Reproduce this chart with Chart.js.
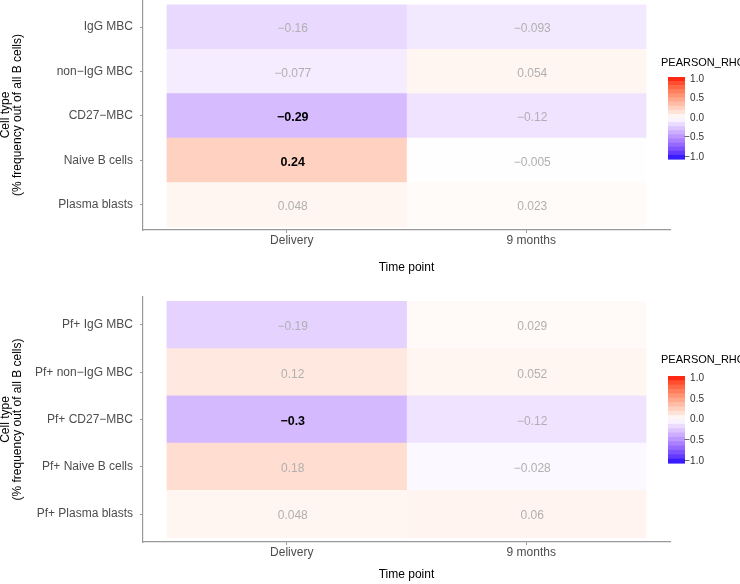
<!DOCTYPE html>
<html>
<head>
<meta charset="utf-8">
<script src="https://cdn.jsdelivr.net/npm/chart.js@4"></script>
<style>
  html, body { margin: 0; padding: 0; background: #fff; }
  canvas { display: block; }
</style>
</head>
<body>
<canvas id="topChart" width="740" height="290"></canvas>
<canvas id="bottomChart" width="740" height="294"></canvas>
<script>
// time points on the x axis
const timePoints = ['Delivery', '9 months'];

// top panel: all B cells
const cellTypesTop = ['IgG MBC', 'non−IgG MBC', 'CD27−MBC', 'Naive B cells', 'Plasma blasts'];
const rhoTopDelivery = [-0.16, -0.077, -0.29, 0.24, 0.048];
const rhoTop9Months = [-0.093, 0.054, -0.12, -0.005, 0.023];
const boldTopDelivery = [false, false, true, true, false];
const boldTop9Months = [false, false, false, false, false];

// bottom panel: Pf+ B cells
const cellTypesBottom = ['Pf+ IgG MBC', 'Pf+ non−IgG MBC', 'Pf+ CD27−MBC', 'Pf+ Naive B cells', 'Pf+ Plasma blasts'];
const rhoBottomDelivery = [-0.19, 0.12, -0.3, 0.18, 0.048];
const rhoBottom9Months = [0.029, 0.052, -0.12, -0.028, 0.06];
const boldBottomDelivery = [false, false, true, false, false];
const boldBottom9Months = [false, false, false, false, false];

// colour bar labels
const legendTicks = [1.0, 0.5, 0.0, -0.5, -1.0];

const FONT = '"Liberation Sans", Arial, sans-serif';
Chart.defaults.font.family = FONT;

// --- blue / white / red gradient, interpolated in Lab like ggplot ---
function toLinear(c) { c /= 255; return c <= 0.04045 ? c / 12.92 : Math.pow((c + 0.055) / 1.055, 2.4); }
function fromLinear(c) {
  c = Math.max(0, Math.min(1, c));
  const v = c <= 0.0031308 ? 12.92 * c : 1.055 * Math.pow(c, 1 / 2.4) - 0.055;
  return Math.round(v * 255);
}
function rgbToLab(rgb) {
  const r = toLinear(rgb[0]), g = toLinear(rgb[1]), b = toLinear(rgb[2]);
  const x = (0.4124 * r + 0.3576 * g + 0.1805 * b) / 0.95047;
  const y = (0.2126 * r + 0.7152 * g + 0.0722 * b);
  const z = (0.0193 * r + 0.1192 * g + 0.9505 * b) / 1.08883;
  const f = t => t > 0.008856 ? Math.cbrt(t) : 7.787 * t + 16 / 116;
  return [116 * f(y) - 16, 500 * (f(x) - f(y)), 200 * (f(y) - f(z))];
}
function labToRgb(lab) {
  const fy = (lab[0] + 16) / 116, fx = fy + lab[1] / 500, fz = fy - lab[2] / 200;
  const inv = t => t > 0.206893 ? t * t * t : (t - 16 / 116) / 7.787;
  const x = inv(fx) * 0.95047, y = inv(fy), z = inv(fz) * 1.08883;
  const r = 3.2406 * x - 1.5372 * y - 0.4986 * z;
  const g = -0.9689 * x + 1.8758 * y + 0.0415 * z;
  const b = 0.0557 * x - 0.2040 * y + 1.0570 * z;
  return [fromLinear(r), fromLinear(g), fromLinear(b)];
}
const labWhite = rgbToLab([255, 255, 255]);
const labBlue = rgbToLab([0, 0, 255]);
const labRed = rgbToLab([255, 0, 0]);

function rhoColor(v) {
  const end = v < 0 ? labBlue : labRed;
  const t = Math.min(1, Math.abs(v));
  const lab = labWhite.map((w, k) => w + (end[k] - w) * t);
  const c = labToRgb(lab);
  return 'rgb(' + c[0] + ',' + c[1] + ',' + c[2] + ')';
}

function formatRho(v) {
  return String(v).replace('-', '−');
}

// numbers written in each tile
const cellTextPlugin = {
  id: 'cellText',
  afterDatasetsDraw(chart) {
    const ctx = chart.ctx;
    ctx.save();
    ctx.textAlign = 'center';
    ctx.textBaseline = 'middle';
    chart.data.datasets.forEach((ds, di) => {
      const meta = chart.getDatasetMeta(di);
      meta.data.forEach((bar, i) => {
        const raw = ds.data[i];
        ctx.font = raw.bold ? 'bold 12.5px ' + FONT : '12px ' + FONT;
        ctx.fillStyle = raw.bold ? '#000' : '#b0b0b0';
        ctx.fillText(formatRho(raw.rho), (bar.x + bar.base) / 2 + 6, bar.y + 2);
      });
    });
    ctx.restore();
  }
};

// ggplot style colour bar on the right
const colorbarPlugin = {
  id: 'colorbar',
  afterDraw(chart, args, opts) {
    const ctx = chart.ctx;
    ctx.save();
    ctx.font = '11px ' + FONT;
    ctx.fillStyle = '#000';
    ctx.textAlign = 'left';
    ctx.textBaseline = 'middle';
    ctx.fillText('PEARSON_RHO', opts.titleX, opts.titleY);

    const nbin = 20;
    const h = opts.bottom - opts.top;
    const step = h / nbin;
    for (let i = 0; i < nbin; i++) {
      const v = 1 - (i + 0.5) / nbin * 2;
      ctx.fillStyle = rhoColor(v);
      ctx.fillRect(opts.x, opts.top + i * step, opts.width, step + 0.6);
    }

    const yFor = v => opts.top + step / 2 + (1 - v) / 2 * (h - step);
    ctx.font = '10px ' + FONT;
    ctx.fillStyle = '#333';
    ctx.textAlign = 'right';
    legendTicks.forEach(v => {
      ctx.fillText(formatRho(v.toFixed(1)), opts.x + opts.width + 19, yFor(v));
    });
    ctx.restore();
  }
};

function makeChart(canvasId, cellTypes, series, bold, box) {
  const datasets = series.map((vals, t) => ({
    label: timePoints[t],
    data: vals.map((v, i) => ({ x: [t, t + 1], y: i, rho: v, bold: bold[t][i] })),
    backgroundColor: vals.map(rhoColor),
    borderWidth: 0,
    barPercentage: 1,
    categoryPercentage: 1,
    grouped: false
  }));

  return new Chart(document.getElementById(canvasId), {
    type: 'bar',
    data: { datasets: datasets },
    plugins: [cellTextPlugin, colorbarPlugin],
    options: {
      indexAxis: 'y',
      responsive: false,
      animation: false,
      layout: { padding: { left: 0, right: 70, top: box.top, bottom: box.padBottom } },
      plugins: {
        legend: { display: false },
        tooltip: { enabled: false },
        colorbar: box.legend
      },
      scales: {
        x: {
          type: 'linear',
          min: -0.1,
          max: 2.1,
          afterBuildTicks: s => { s.ticks = timePoints.map((t, i) => ({ value: i + 0.5 })); },
          afterFit: s => {
            s.height = box.xHeight;
            s.paddingLeft = 0;
            s.paddingRight = 0;
          },
          ticks: {
            callback: (v, i) => timePoints[i],
            color: '#4d4d4d',
            font: { size: 12 },
            padding: 0,
            labelOffset: 5,
            maxRotation: 0
          },
          grid: { drawOnChartArea: false, tickLength: 3, tickColor: '#999' },
          border: { color: '#999', width: 1.2 },
          title: {
            display: true,
            text: 'Time point',
            color: '#000',
            font: { size: 12 },
            padding: { top: 0, bottom: 0 }
          }
        },
        y: {
          type: 'linear',
          reverse: true,
          offset: false,
          min: box.yMin,
          max: box.yMax,
          afterBuildTicks: s => { s.ticks = cellTypes.map((c, i) => ({ value: i })); },
          afterFit: s => {
            s.width = 143;
            s.paddingTop = 0;
            s.paddingBottom = 0;
          },
          ticks: {
            callback: (v, i) => cellTypes[i],
            color: '#4d4d4d',
            font: { size: 12 },
            padding: 7,
            autoSkip: false
          },
          grid: { offset: false, drawOnChartArea: false, tickLength: 3, tickColor: '#999' },
          border: { color: '#999', width: 1.2 },
          title: {
            display: true,
            text: ['Cell type', '(% frequency out of all B cells)'],
            color: '#000',
            font: { size: 12, lineHeight: 1.0 },
            padding: { top: 0, bottom: 0 }
          }
        }
      }
    }
  });
}

makeChart('topChart', cellTypesTop,
  [rhoTopDelivery, rhoTop9Months],
  [boldTopDelivery, boldTop9Months],
  { top: 0, padBottom: 15, xHeight: 45, yMin: -0.61, yMax: 4.57,
    legend: { titleX: 661, titleY: 63, x: 668, width: 17, top: 77, bottom: 159 } });

makeChart('bottomChart', cellTypesBottom,
  [rhoBottomDelivery, rhoBottom9Months],
  [boldBottomDelivery, boldBottom9Months],
  { top: 7, padBottom: 2, xHeight: 40, yMin: -0.59, yMax: 4.59,
    legend: { titleX: 661, titleY: 70, x: 668, width: 17, top: 86, bottom: 173 } });
</script>
</body>
</html>
